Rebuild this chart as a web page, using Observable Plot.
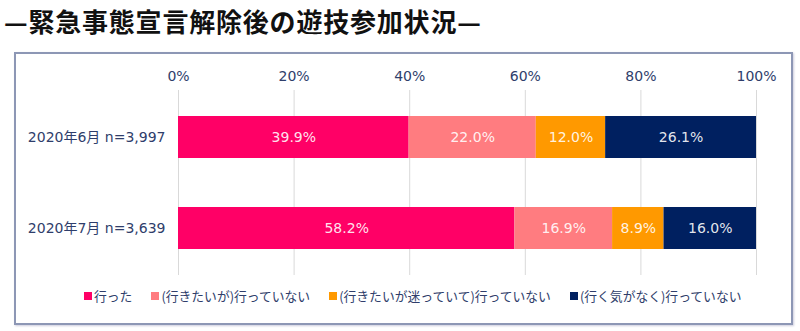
<!DOCTYPE html>
<html><head><meta charset="utf-8">
<script src="https://cdn.jsdelivr.net/npm/d3@7"></script>
<script src="https://cdn.jsdelivr.net/npm/@observablehq/plot@0.6"></script>
<style>
body{margin:0;background:#fff;font-family:"Noto Sans CJK JP","Noto Sans",sans-serif;}
#wrap{position:relative;width:800px;height:331px;overflow:hidden;}
#title{position:absolute;left:4px;top:2px;font-size:26px;font-weight:bold;color:#111;white-space:nowrap;letter-spacing:0.8px;}
#box{position:absolute;left:14px;top:52px;width:775px;height:269px;border:2px solid #8d97b5;box-shadow:1px 1px 2px #ccd;}
#chart{position:absolute;left:0;top:0;}
#legend{position:absolute;left:84px;top:286px;display:flex;gap:19px;font-size:12.8px;color:#2f3e6b;white-space:nowrap;}
#legend span.sw{display:inline-block;width:8px;height:8px;margin-right:2px;vertical-align:1px;}
</style></head>
<body><div id="wrap">
<div id="title">—緊急事態宣言解除後の遊技参加状況—</div>
<div id="box"></div>
<div id="chart"></div>
<div id="legend"></div>
</div>
<script>
const categories = ["2020年6月 n=3,997", "2020年7月 n=3,639"];
const seriesNames = ["行った", "(行きたいが)行っていない", "(行きたいが迷っていて)行っていない", "(行く気がなく)行っていない"];
const seriesColors = ["#ff0066", "#ff7c80", "#ff9900", "#002060"];
const june = [39.9, 22.0, 12.0, 26.1];
const july = [58.2, 16.9, 8.9, 16.0];
const xTicks = [0, 20, 40, 60, 80, 100];

const rows = [];
[june, july].forEach((vals, i) => vals.forEach((v, j) => rows.push({cat: categories[i], series: seriesNames[j], value: v, order: j})));

const font = '"DejaVu Sans","Noto Sans CJK JP",sans-serif';
const chart = Plot.plot({
  width: 800, height: 331,
  marginLeft: 178, marginRight: 44, marginTop: 90, marginBottom: 56,
  style: {fontFamily: font, background: "transparent"},
  x: {domain: [0, 100], ticks: xTicks, axis: null},
  y: {domain: categories, axis: null, paddingInner: 0.543, paddingOuter: 0.277},
  color: {domain: seriesNames, range: seriesColors},
  marks: [
    Plot.gridX(xTicks, {stroke: "#d9d9d9", strokeOpacity: 1, strokeWidth: 1}),
    Plot.axisX(xTicks, {anchor: "top", tickSize: 0, tickPadding: 10, fontSize: 14, fill: "#2f3e6b", tickFormat: d => d + "%", label: null}),
    Plot.axisY({anchor: "left", tickSize: 0, tickPadding: 13, fontSize: 14, fill: "#2f3e6b", label: null}),
    Plot.barX(rows, Plot.stackX({y: "cat", x: "value", fill: "series", order: "order"})),
    Plot.text(rows, Plot.stackX({y: "cat", x: "value", z: "series", order: "order", text: d => d.value.toFixed(1) + "%", fill: "#fff", fillOpacity: 0.9, fontSize: 14}))
  ]
});
document.getElementById("chart").appendChild(chart);

const lg = document.getElementById("legend");
seriesNames.forEach((n, i) => {
  const d = document.createElement("div");
  d.innerHTML = `<span class="sw" style="background:${seriesColors[i]}"></span>${n}`;
  lg.appendChild(d);
});
</script>
</body></html>
